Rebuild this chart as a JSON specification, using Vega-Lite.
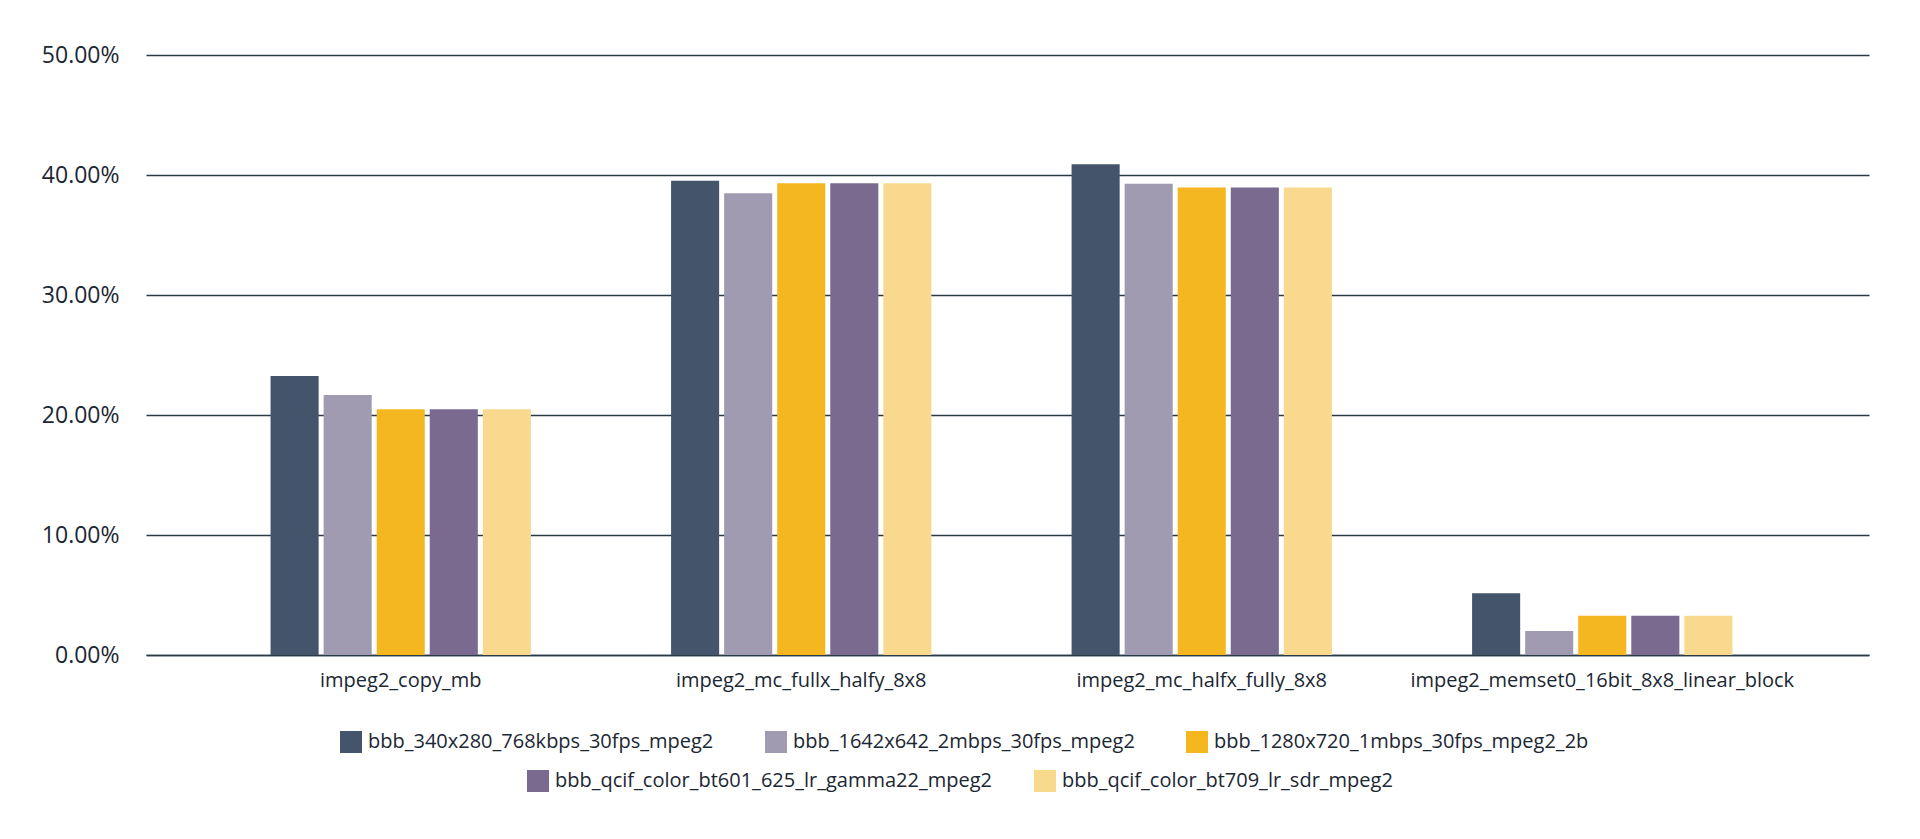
{
  "$schema": "https://vega.github.io/schema/vega-lite/v6.json",
  "autosize": {"type": "none"},
  "padding": {"left": 146, "top": 55, "right": 51, "bottom": 184},
  "width": 1723,
  "height": 600,
  "background": "white",
  "config": {
    "view": {"stroke": null},
    "font": "Open Sans",
    "axis": {"labelFont": "Open Sans", "labelColor": "#1b2733"},
    "legend": {"labelFont": "Open Sans", "labelColor": "#1b2733"}
  },
  "data": {
    "values": [
      {"kernel": "impeg2_copy_mb", "series": "bbb_340x280_768kbps_30fps_mpeg2", "value": 0.2326},
      {"kernel": "impeg2_copy_mb", "series": "bbb_1642x642_2mbps_30fps_mpeg2", "value": 0.2167},
      {"kernel": "impeg2_copy_mb", "series": "bbb_1280x720_1mbps_30fps_mpeg2_2b", "value": 0.2048},
      {"kernel": "impeg2_copy_mb", "series": "bbb_qcif_color_bt601_625_lr_gamma22_mpeg2", "value": 0.2048},
      {"kernel": "impeg2_copy_mb", "series": "bbb_qcif_color_bt709_lr_sdr_mpeg2", "value": 0.2048},
      {"kernel": "impeg2_mc_fullx_halfy_8x8", "series": "bbb_340x280_768kbps_30fps_mpeg2", "value": 0.3953},
      {"kernel": "impeg2_mc_fullx_halfy_8x8", "series": "bbb_1642x642_2mbps_30fps_mpeg2", "value": 0.3848},
      {"kernel": "impeg2_mc_fullx_halfy_8x8", "series": "bbb_1280x720_1mbps_30fps_mpeg2_2b", "value": 0.3932},
      {"kernel": "impeg2_mc_fullx_halfy_8x8", "series": "bbb_qcif_color_bt601_625_lr_gamma22_mpeg2", "value": 0.3932},
      {"kernel": "impeg2_mc_fullx_halfy_8x8", "series": "bbb_qcif_color_bt709_lr_sdr_mpeg2", "value": 0.3932},
      {"kernel": "impeg2_mc_halfx_fully_8x8", "series": "bbb_340x280_768kbps_30fps_mpeg2", "value": 0.4090},
      {"kernel": "impeg2_mc_halfx_fully_8x8", "series": "bbb_1642x642_2mbps_30fps_mpeg2", "value": 0.3928},
      {"kernel": "impeg2_mc_halfx_fully_8x8", "series": "bbb_1280x720_1mbps_30fps_mpeg2_2b", "value": 0.3895},
      {"kernel": "impeg2_mc_halfx_fully_8x8", "series": "bbb_qcif_color_bt601_625_lr_gamma22_mpeg2", "value": 0.3895},
      {"kernel": "impeg2_mc_halfx_fully_8x8", "series": "bbb_qcif_color_bt709_lr_sdr_mpeg2", "value": 0.3895},
      {"kernel": "impeg2_memset0_16bit_8x8_linear_block", "series": "bbb_340x280_768kbps_30fps_mpeg2", "value": 0.0515},
      {"kernel": "impeg2_memset0_16bit_8x8_linear_block", "series": "bbb_1642x642_2mbps_30fps_mpeg2", "value": 0.0200},
      {"kernel": "impeg2_memset0_16bit_8x8_linear_block", "series": "bbb_1280x720_1mbps_30fps_mpeg2_2b", "value": 0.0328},
      {"kernel": "impeg2_memset0_16bit_8x8_linear_block", "series": "bbb_qcif_color_bt601_625_lr_gamma22_mpeg2", "value": 0.0328},
      {"kernel": "impeg2_memset0_16bit_8x8_linear_block", "series": "bbb_qcif_color_bt709_lr_sdr_mpeg2", "value": 0.0328}
    ]
  },
  "encoding": {
    "x": {
      "field": "kernel",
      "type": "nominal",
      "sort": null,
      "scale": {"paddingInner": 0.35, "paddingOuter": 0.326, "align": 0.477},
      "axis": {
        "title": null,
        "labelAngle": 0,
        "labelFontSize": 20,
        "labelPadding": 15,
        "ticks": false,
        "domain": true,
        "domainColor": "#2b3a47",
        "domainWidth": 1.6,
        "labelLimit": 600
      }
    },
    "xOffset": {
      "field": "series",
      "type": "nominal",
      "sort": null,
      "scale": {
        "domain": [
          "bbb_340x280_768kbps_30fps_mpeg2",
          "bbb_1642x642_2mbps_30fps_mpeg2",
          "bbb_1280x720_1mbps_30fps_mpeg2_2b",
          "bbb_qcif_color_bt601_625_lr_gamma22_mpeg2",
          "bbb_qcif_color_bt709_lr_sdr_mpeg2"
        ],
        "paddingInner": 0.094,
        "paddingOuter": 0
      }
    },
    "y": {
      "field": "value",
      "type": "quantitative",
      "scale": {"domain": [0, 0.5], "nice": false},
      "axis": {
        "title": null,
        "format": ".2%",
        "values": [0, 0.1, 0.2, 0.3, 0.4, 0.5],
        "labelFontSize": 23,
        "labelPadding": 27,
        "ticks": false,
        "domain": false,
        "grid": true,
        "gridColor": "#2b3a47",
        "gridWidth": 1.6
      }
    }
  },
  "layer": [
    {
      "transform": [
        {"filter": {"field": "series", "oneOf": [
          "bbb_340x280_768kbps_30fps_mpeg2",
          "bbb_1642x642_2mbps_30fps_mpeg2",
          "bbb_1280x720_1mbps_30fps_mpeg2_2b"
        ]}}
      ],
      "mark": {"type": "bar"},
      "encoding": {
        "color": {
          "field": "series",
          "type": "nominal",
          "scale": {
            "domain": [
              "bbb_340x280_768kbps_30fps_mpeg2",
              "bbb_1642x642_2mbps_30fps_mpeg2",
              "bbb_1280x720_1mbps_30fps_mpeg2_2b"
            ],
            "range": ["#44546a", "#a19bb1", "#f4b720"]
          },
          "legend": {
            "title": null,
            "orient": "none",
            "legendX": 194,
            "legendY": 676,
            "direction": "horizontal",
            "columns": 3,
            "symbolType": "square",
            "symbolSize": 484,
            "symbolStrokeWidth": 0,
            "labelFontSize": 20,
            "labelOffset": 6,
            "columnPadding": 51,
            "labelLimit": 600
          }
        }
      }
    },
    {
      "transform": [
        {"filter": {"field": "series", "oneOf": [
          "bbb_qcif_color_bt601_625_lr_gamma22_mpeg2",
          "bbb_qcif_color_bt709_lr_sdr_mpeg2"
        ]}}
      ],
      "mark": {"type": "bar"},
      "encoding": {
        "fill": {
          "field": "series",
          "type": "nominal",
          "scale": {
            "domain": [
              "bbb_qcif_color_bt601_625_lr_gamma22_mpeg2",
              "bbb_qcif_color_bt709_lr_sdr_mpeg2"
            ],
            "range": ["#7a6a8f", "#f8d98e"]
          },
          "legend": {
            "title": null,
            "orient": "none",
            "legendX": 381,
            "legendY": 715,
            "direction": "horizontal",
            "columns": 2,
            "symbolType": "square",
            "symbolSize": 484,
            "symbolStrokeWidth": 0,
            "labelFontSize": 20,
            "labelOffset": 6,
            "columnPadding": 42,
            "labelLimit": 600
          }
        }
      }
    }
  ]
}
